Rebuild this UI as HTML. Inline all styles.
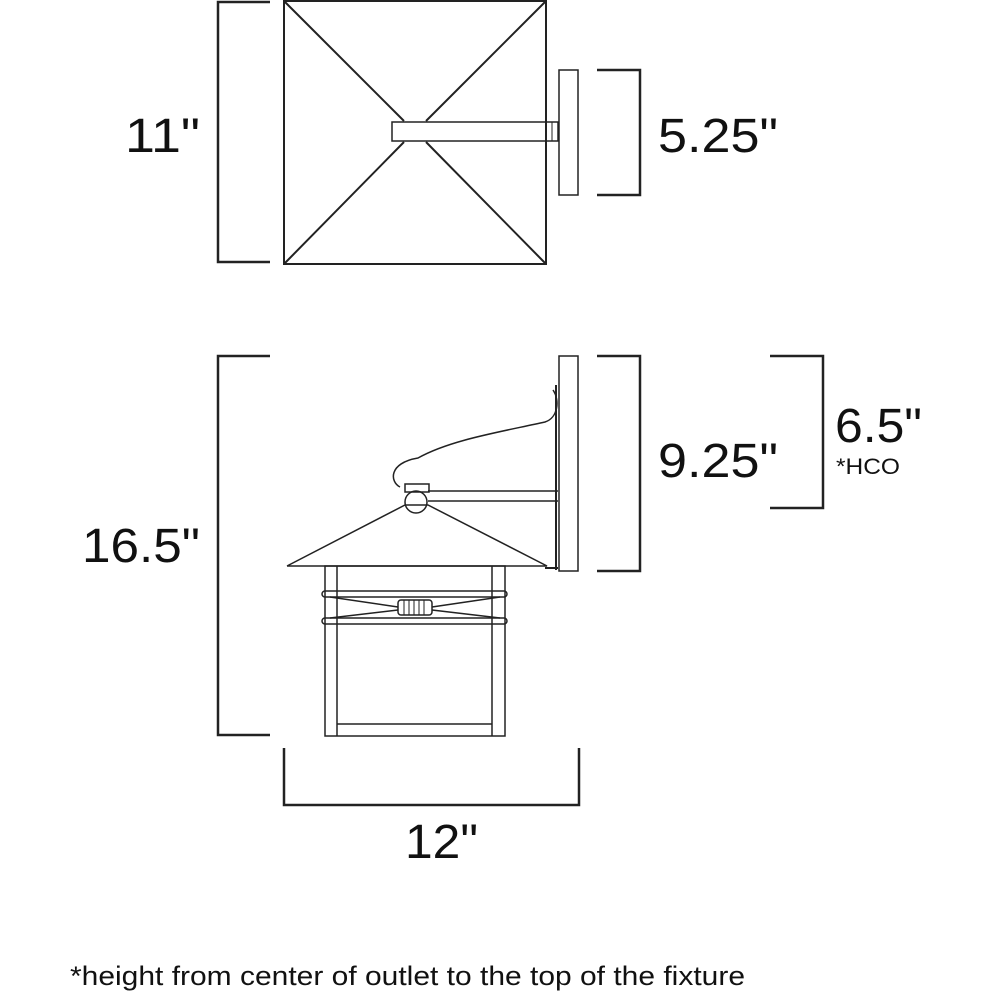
<!DOCTYPE html>
<html><head><style>
body{margin:0;background:#fff}
svg{display:block}
text{font-family:"Liberation Sans",sans-serif;fill:#111}
</style></head><body>
<svg width="1000" height="1000" viewBox="0 0 1000 1000" xmlns="http://www.w3.org/2000/svg">
<g fill="none" stroke="#222" stroke-width="2">
<rect x="284" y="1" width="262" height="263"/>
<line x1="284" y1="1" x2="404" y2="121"/><line x1="546" y1="1" x2="426" y2="121"/>
<line x1="284" y1="264" x2="404" y2="142"/><line x1="546" y1="264" x2="426" y2="142"/>
<rect x="392" y="122" width="166" height="19" stroke-width="1.5"/>
<line x1="552" y1="122" x2="552" y2="141" stroke-width="1"/>
<rect x="559" y="70" width="19" height="125" stroke-width="1.5"/>
<polyline points="270,2 218,2 218,262 270,262" stroke-width="2.5"/>
<polyline points="597,70 640,70 640,195 597,195" stroke-width="2.5"/>
<rect x="559" y="356" width="19" height="215" stroke-width="1.5"/>
<line x1="556" y1="385" x2="556" y2="570" stroke-width="2"/>
<path d="M553,390 C560,400 558,418 545,422 C500,432 450,440 418,458 C388,463 390,482 400,487" stroke-width="1.5"/>
<rect x="405" y="484" width="24" height="8" stroke-width="1.5"/>
<line x1="428" y1="491" x2="558" y2="491" stroke-width="1.5"/>
<line x1="428" y1="501" x2="558" y2="501" stroke-width="1.5"/>
<circle cx="416" cy="502" r="11" stroke-width="1.5"/>
<polyline points="287,566 405,505 428,505 547,566 287,566" stroke-width="1.5"/>
<line x1="545" y1="568" x2="558" y2="568" stroke-width="2"/>
<rect x="325" y="566" width="180" height="170" stroke-width="1.5"/>
<line x1="337" y1="566" x2="337" y2="736" stroke-width="1.5"/>
<line x1="492" y1="566" x2="492" y2="736" stroke-width="1.5"/>
<line x1="337" y1="724" x2="492" y2="724" stroke-width="1.5"/>
<rect x="322" y="591" width="185" height="6" rx="3" stroke-width="1.5"/>
<rect x="322" y="618" width="185" height="6" rx="3" stroke-width="1.5"/>
<line x1="330" y1="597" x2="398" y2="607" stroke-width="1.5"/><line x1="330" y1="618" x2="398" y2="610" stroke-width="1.5"/>
<line x1="500" y1="597" x2="432" y2="607" stroke-width="1.5"/><line x1="500" y1="618" x2="432" y2="610" stroke-width="1.5"/>
<rect x="398" y="600" width="34" height="15" rx="3" stroke-width="1.5"/>
<g stroke-width="1"><line x1="404" y1="600" x2="404" y2="615"/><line x1="409" y1="600" x2="409" y2="615"/><line x1="414" y1="600" x2="414" y2="615"/><line x1="419" y1="600" x2="419" y2="615"/><line x1="424" y1="600" x2="424" y2="615"/></g>
<polyline points="270,356 218,356 218,735 270,735" stroke-width="2.5"/>
<polyline points="597,356 640,356 640,571 597,571" stroke-width="2.5"/>
<polyline points="770,356 823,356 823,508 770,508" stroke-width="2.5"/>
<polyline points="284,748 284,805 579,805 579,748" stroke-width="2.5"/>
</g>
<g font-size="48">
<text x="125" y="152" textLength="75" lengthAdjust="spacingAndGlyphs">11"</text>
<text x="658" y="152" textLength="120" lengthAdjust="spacingAndGlyphs">5.25"</text>
<text x="82" y="562" textLength="118" lengthAdjust="spacingAndGlyphs">16.5"</text>
<text x="658" y="477" textLength="120" lengthAdjust="spacingAndGlyphs">9.25"</text>
<text x="835" y="442" textLength="87" lengthAdjust="spacingAndGlyphs">6.5"</text>
<text x="405" y="858" textLength="73" lengthAdjust="spacingAndGlyphs">12"</text>
</g>
<text x="836" y="474" font-size="22" textLength="64" lengthAdjust="spacingAndGlyphs">*HCO</text>
<text x="70" y="985" font-size="27" textLength="675" lengthAdjust="spacingAndGlyphs">*height from center of outlet to the top of the fixture</text>
</svg>
</body></html>
